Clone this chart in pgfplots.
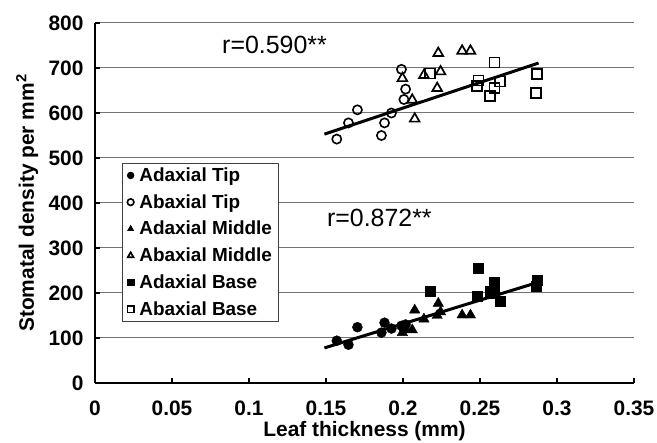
\documentclass[border=0pt]{standalone}
\usepackage{fontspec}
\setmainfont{Liberation Sans}
\usepackage{pgfplots}
\pgfplotsset{compat=1.18}
\begin{document}
\begin{tikzpicture}
\begin{axis}[
  scale only axis, width=539bp, height=360bp,
  xmin=0, xmax=0.35, ymin=0, ymax=800,
  xtick={0,0.05,0.1,0.15,0.2,0.25,0.3,0.35},
  xticklabels={0,0.05,0.1,0.15,0.2,0.25,0.3,0.35},
  ytick={0,100,200,300,400,500,600,700,800},
  yticklabels={0,100,200,300,400,500,600,700,800},
  /pgf/number format/assume math mode=true,
  axis x line*=bottom, axis y line*=left,
  axis line style={line width=2.6bp, -},
  ymajorgrids, grid style={black!55, line width=1bp},
  tick align=inside, major tick length=5bp,
  tick style={line width=2bp, black},
  ticklabel style={font=\bfseries\fontsize{21}{21}\selectfont},
  yticklabel style={xshift=-8bp},
  xticklabel style={yshift=-14bp},
  xlabel={Leaf thickness (mm)},
  ylabel={Stomatal density per mm$^{\mathbf{2}}$},
  label style={font=\bfseries\fontsize{21}{21}\selectfont},
  xlabel style={at={(axis description cs:0.5,-0.105)}, anchor=north, inner sep=0pt},
  ylabel style={at={(axis description cs:-0.126,0.5)}, anchor=center, inner sep=0pt},
  legend style={at={(axis cs:0.0175,489)}, anchor=north west, draw=black!75, line width=0.8bp,
    font=\bfseries\fontsize{19}{19}\selectfont, inner xsep=5bp, inner ysep=3bp,
    row sep=8.5bp, nodes={inner sep=1.5bp},
    /tikz/every odd column/.append style={column sep=4bp}},
  legend cell align=left,
  legend image code/.code={\draw[#1, mark size=3.3bp] plot coordinates {(0bp,0bp)};},
]
\coordinate (SW) at (rel axis cs:0,0);
\coordinate (NE) at (rel axis cs:1,1);
% regression lines
\addplot[black, line width=3bp, mark=none, forget plot] coordinates {(0.149,553) (0.288,711)};
\addplot[black, line width=3bp, mark=none, forget plot] coordinates {(0.149,78) (0.288,224)};
% Adaxial Tip
\addplot[only marks, mark=*, mark size=5bp, draw=black, fill=black] coordinates {
 (0.157,94) (0.1646,85) (0.1704,124) (0.186,112) (0.188,134) (0.1925,121) (0.199,127) (0.2006,120) (0.2017,130)};
\addlegendentry{Adaxial Tip}
% Abaxial Tip
\addplot[only marks, mark=o, mark size=4.6bp, draw=black, line width=1.6bp, fill=white, mark options={fill=white}] coordinates {
 (0.157,542) (0.1646,578) (0.1704,607) (0.186,550) (0.188,578) (0.1925,600) (0.199,697) (0.2017,653) (0.2006,630)};
\addlegendentry{Abaxial Tip}
% Adaxial Middle
\addplot[only marks, mark=triangle*, mark size=6bp, draw=black, fill=black] coordinates {
 (0.1996,112) (0.206,118) (0.2076,162) (0.2136,142) (0.2229,177) (0.2244,158) (0.2222,150) (0.2384,151) (0.2438,151)};
\addlegendentry{Adaxial Middle}
% Abaxial Middle
\addplot[only marks, mark=triangle, mark size=5.6bp, draw=black, line width=1.7bp, mark options={fill=white}] coordinates {
 (0.1996,677) (0.206,629) (0.2076,587) (0.2136,684) (0.2229,733) (0.2384,738) (0.2438,738) (0.2244,692) (0.2222,655)};
\addlegendentry{Abaxial Middle}
% Adaxial Base
\addplot[only marks, mark=square*, mark size=5bp, draw=black, fill=black] coordinates {
 (0.2175,203) (0.2593,225) (0.249,255) (0.248,192) (0.263,181) (0.2593,200) (0.2563,205) (0.287,229) (0.2865,214)};
\addlegendentry{Adaxial Base}
% Abaxial Base
\addplot[only marks, mark=square, mark size=5bp, draw=black, line width=1.6bp, mark options={fill=white}] coordinates {
 (0.2175,688) (0.2593,712) (0.249,672) (0.248,660) (0.263,670) (0.2593,655) (0.2563,638) (0.287,687) (0.2865,644)};
\addlegendentry{Abaxial Base}
\node[anchor=west, font=\fontsize{25}{25}\selectfont, inner sep=0pt] at (axis cs:0.0825,751) {r=0.590**};
\node[anchor=west, font=\fontsize{25}{25}\selectfont, inner sep=0pt] at (axis cs:0.1506,367) {r=0.872**};
\end{axis}
\pgfresetboundingbox
\path ([shift={(-95bp,-60bp)}]SW) rectangle ([shift={(23bp,23bp)}]NE);
\end{tikzpicture}
\end{document}
